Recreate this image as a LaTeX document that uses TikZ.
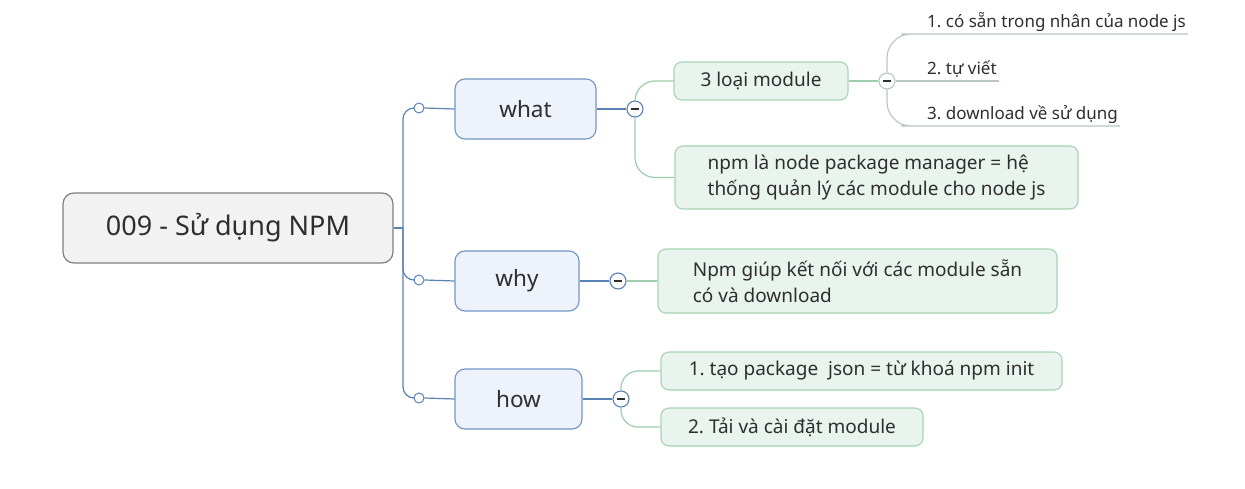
\documentclass[tikz,border=0pt]{standalone}
\usepackage{fontspec}
\setmainfont{Noto Sans}
\frenchspacing
\definecolor{txt}{HTML}{2E2E2E}
\definecolor{rootfill}{HTML}{F2F2F2}
\definecolor{rootdraw}{HTML}{7F7F7F}
\definecolor{bfill}{HTML}{EDF2FB}
\definecolor{bdraw}{HTML}{7096C6}
\definecolor{bline}{HTML}{5A82B4}
\definecolor{gfill}{HTML}{EAF4EE}
\definecolor{gdraw}{HTML}{A6D5B4}
\definecolor{gline}{HTML}{9ECDAE}
\definecolor{lline}{HTML}{B9C6BE}
\begin{document}
\begin{tikzpicture}[x=1pt,y=-1pt,
  rootbox/.style={draw=rootdraw, fill=rootfill, line width=1.2pt, rounded corners=11pt,
    minimum width=330pt, minimum height=70pt, inner sep=0pt, text=txt,
    font=\fontsize{27}{32}\selectfont},
  bluebox/.style={draw=bdraw, fill=bfill, line width=1.1pt, rounded corners=10pt,
    minimum height=60pt, inner sep=0pt, text=txt, font=\fontsize{22.5}{27}\selectfont},
  greenbox/.style={draw=gdraw, fill=gfill, line width=1.1pt, rounded corners=8pt,
    inner sep=0pt, text=txt, align=left, font=\fontsize{19}{26}\selectfont},
  leaf/.style={anchor=south west, inner xsep=2pt, inner ysep=6pt, text depth=0pt,
    text=txt, font=\fontsize{17}{20}\selectfont},
  jdot/.style={circle, draw=bline, fill=white, line width=1pt, minimum size=10pt, inner sep=0pt},
  mcirc/.style={circle, draw=#1, fill=white, line width=1.1pt, minimum size=16pt, inner sep=0pt,
    path picture={\draw[line width=1.3pt, txt]
      ([xshift=-4pt]path picture bounding box.center) -- ([xshift=4pt]path picture bounding box.center);}},
  bl/.style={draw=bline, line width=1.2pt},
  gl/.style={draw=gline, line width=1.2pt},
  ll/.style={draw=lline, line width=1.1pt}
]
\fill[white] (0,0) rectangle (1245,489);
\useasboundingbox (0,0) rectangle (1245,489);

% root
\node[rootbox] (root) at (228,228) {009 - Sử dụng NPM};
\coordinate (tk) at (403,228);

% junction dots
\node[jdot] (c1) at (419,108) {};
\node[jdot] (c2) at (419,280) {};
\node[jdot] (c3) at (419,398) {};

% level 1
\node[bluebox, minimum width=141pt] (what) at (525.5,109) {what};
\node[bluebox, minimum width=124pt] (why) at (517,281) {why};
\node[bluebox, minimum width=127pt] (how) at (518.5,399) {how};

% collapse circles
\node[mcirc=bline] (m1) at (635,109) {};
\node[mcirc=bline] (m2) at (618,281) {};
\node[mcirc=bline] (m3) at (621,399) {};

% level 2
\node[greenbox, minimum width=174pt, minimum height=38pt, align=center] (loai) at (761,81) {3 loại module};
\node[greenbox, minimum width=403pt, minimum height=63pt] (npm) at (876.5,177.5)
  {npm là node package manager = hệ\\thống quản lý các module cho node js};
\node[greenbox, minimum width=399pt, minimum height=64pt] (gwhy) at (857.5,281)
  {Npm giúp kết nối với các module sẵn\\có và download};
\node[greenbox, minimum width=401pt, minimum height=38pt] (h1) at (861.5,371)
  {1. tạo package\ \ json = từ khoá npm init};
\node[greenbox, minimum width=262pt, minimum height=38pt] (h2) at (792,427)
  {2. Tải và cài đặt module};

% level 3
\node[mcirc=lline] (m4) at (887,81) {};
\node[leaf] (l1) at (925,34) {1. có sẵn trong nhân của node js};
\node[leaf] (l2) at (925,81) {2. tự viết};
\node[leaf] (l3) at (925,126) {3. download về sử dụng};

% connectors: root trunk
\draw[bl] (root.east) -- (tk);
\draw[bl, rounded corners=11pt] (tk) |- (c1.west);
\draw[bl, rounded corners=11pt] (tk) |- (c2.west);
\draw[bl, rounded corners=11pt] (tk) |- (c3.west);
\draw[bl] (c1.east) -- (what.west);
\draw[bl] (c2.east) -- (why.west);
\draw[bl] (c3.east) -- (how.west);

% to collapse circles
\draw[bl] (what.east) -- (m1.west);
\draw[bl] (why.east) -- (m2.west);
\draw[bl] (how.east) -- (m3.west);

% green branches
\draw[gl, rounded corners=20pt] (m1.north) |- (loai.west);
\draw[gl, rounded corners=20pt] (m1.south) |- (npm.west);
\draw[gl] (m2.east) -- (gwhy.west);
\draw[gl, rounded corners=17pt] (m3.north) |- (h1.west);
\draw[gl, rounded corners=17pt] (m3.south) |- (h2.west);
\draw[gl] (loai.east) -- (m4.west);

% leaf branches
\draw[ll, rounded corners=24pt] (m4.north) |- (l1.south west) -- (l1.south east);
\draw[ll] (m4.east) -- (l2.south west) -- (l2.south east);
\draw[ll, rounded corners=24pt] (m4.south) |- (l3.south west) -- (l3.south east);
\end{tikzpicture}
\end{document}
